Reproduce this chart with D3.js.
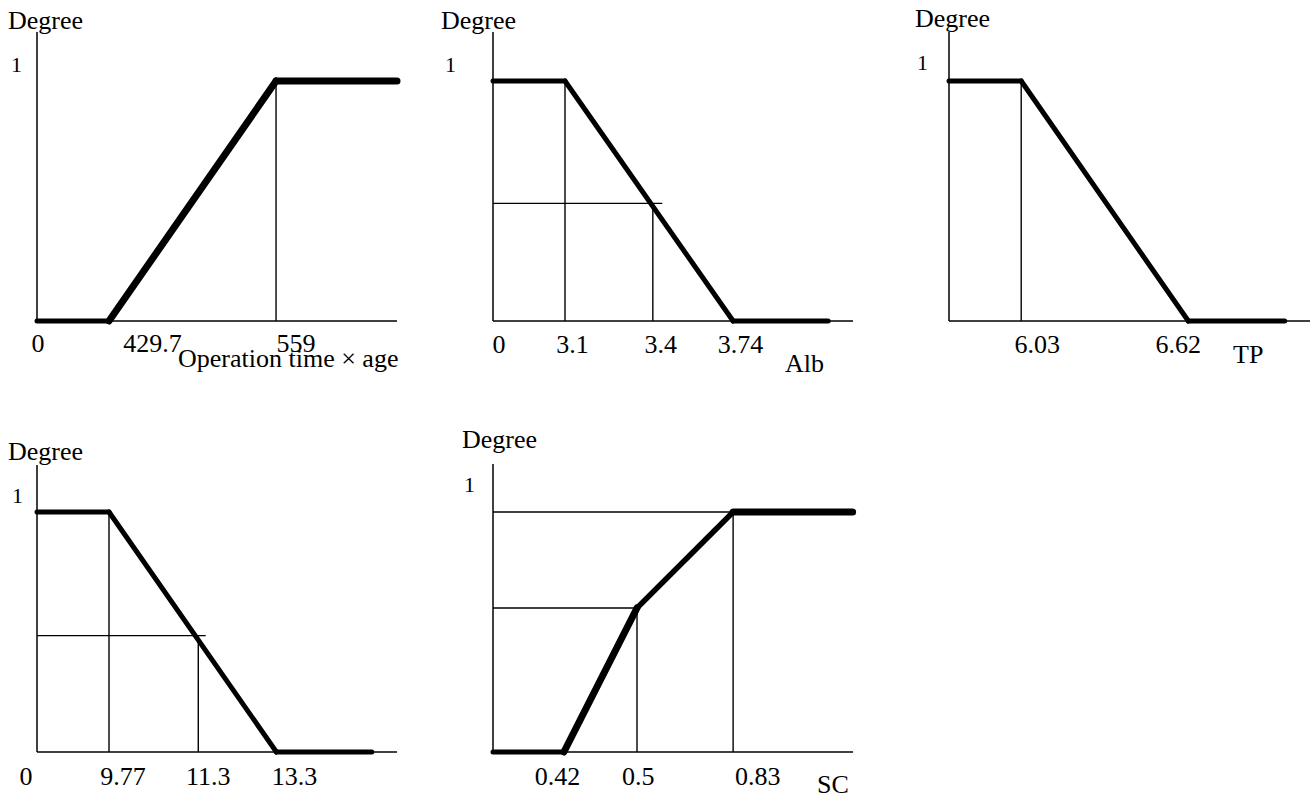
<!DOCTYPE html>
<html><head><meta charset="utf-8">
<script src="https://cdn.jsdelivr.net/npm/d3@7"></script>
<style>
html,body{margin:0;padding:0;background:#fff;}
text{font-family:"Liberation Serif","Times New Roman",serif;fill:#000;}
</style></head><body>
<svg id="chart" width="1311" height="798"></svg>
<script>
// ---------------- data ----------------
const degreeLabel = "Degree";
const oneLabel = "1";

// Panel 1: Operation time × age
const optTitle = "Operation time × age";
const optTickValues = [0, 429.7, 559];
const optTickLabels = ["0", "429.7", "559"];
const optX = [0, 429.7, 559, 650];
const optY = [0, 0, 1, 1];
const optGuides = [[559, 0, 559, 1]];

// Panel 2: Alb
const albTitle = "Alb";
const albTickValues = [0, 3.1, 3.4, 3.74];
const albTickLabels = ["0", "3.1", "3.4", "3.74"];
const albX = [0, 3.1, 3.74, 4.1];
const albY = [1, 1, 0, 0];
const albGuides = [[3.1, 0, 3.1, 1], [0, 0.49, 3.44, 0.49], [3.4, 0, 3.4, 0.49]];

// Panel 3: TP
const tpTitle = "TP";
const tpTickValues = [6.03, 6.62];
const tpTickLabels = ["6.03", "6.62"];
const tpX = [0, 6.03, 6.62, 6.95];
const tpY = [1, 1, 0, 0];
const tpGuides = [[6.03, 0, 6.03, 1]];

// Panel 4
const p4Title = "";
const p4TickValues = [0, 9.77, 11.3, 13.3];
const p4TickLabels = ["0", "9.77", "11.3", "13.3"];
const p4X = [0, 9.77, 13.3, 14.9];
const p4Y = [1, 1, 0, 0];
const p4Guides = [[9.77, 0, 9.77, 1], [0, 0.485, 11.49, 0.485], [11.3, 0, 11.3, 0.485]];

// Panel 5: SC
const scTitle = "SC";
const scTickValues = [0.42, 0.5, 0.83];
const scTickLabels = ["0.42", "0.5", "0.83"];
const scX = [0, 0.42, 0.5, 0.83, 1.0];
const scY = [0, 0, 0.6, 1, 1];
const scGuides = [[0, 1, 0.83, 1], [0, 0.6, 0.5, 0.6], [0.5, 0, 0.5, 0.6], [0.83, 0, 0.83, 1]];

// ---------------- layout (schematic, not-to-scale axes) ----------------
const panels = [
  {title: optTitle, tv: optTickValues, tl: optTickLabels, xs: optX, ys: optY, guides: optGuides,
   x0: 37, yBase: 321, yTop: 32, axisW: 360, dom: [0, 429.7, 559, 650], frac: [0, 0.2, 0.664, 1.0],
   widths: [5, 7, 7], degX: 8, degY: 29, oneX: 11, oneY: 72, titleX: 178, titleY: 367, tickY: 352, tickDx: [1, 43.5, 20]},
  {title: albTitle, tv: albTickValues, tl: albTickLabels, xs: albX, ys: albY, guides: albGuides,
   x0: 493, yBase: 321, yTop: 32, axisW: 360, dom: [0, 3.1, 3.4, 3.74, 4.1], frac: [0, 0.2, 0.444, 0.667, 0.931],
   widths: [5, 5, 5], degX: 441, degY: 29, oneX: 445, oneY: 72, titleX: 785, titleY: 372, tickY: 353, tickDx: [6, 7.5, 8, 7.5]},
  {title: tpTitle, tv: tpTickValues, tl: tpTickLabels, xs: tpX, ys: tpY, guides: tpGuides,
   x0: 949, yBase: 321, yTop: 32, axisW: 361, dom: [0, 6.03, 6.62, 6.95], frac: [0, 0.2, 0.663, 0.93],
   widths: [5, 5, 5], degX: 915, degY: 27, oneX: 917, oneY: 70, titleX: 1233, titleY: 363, tickY: 353, tickDx: [16, -10]},
  {title: p4Title, tv: p4TickValues, tl: p4TickLabels, xs: p4X, ys: p4Y, guides: p4Guides,
   x0: 37, yBase: 752, yTop: 465, axisW: 360, dom: [0, 9.77, 11.3, 13.3, 14.9], frac: [0, 0.2, 0.448, 0.665, 0.93],
   widths: [5, 5, 5], degX: 8, degY: 460, oneX: 12, oneY: 503, titleX: 0, titleY: 0, tickY: 785, tickDx: [-11, 14, 10, 18]},
  {title: scTitle, tv: scTickValues, tl: scTickLabels, xs: scX, ys: scY, guides: scGuides,
   x0: 493, yBase: 752, yTop: 464, axisW: 360, dom: [0, 0.42, 0.5, 0.83, 1.0], frac: [0, 0.197, 0.4, 0.667, 0.999],
   widths: [5, 7, 5.5, 7], degX: 462, degY: 448, oneX: 464, oneY: 492, titleX: 817, titleY: 793, tickY: 785, tickDx: [-6.5, 1.3, 24.7]}
];

const svg = d3.select("#chart");
const degreeH = 240;

panels.forEach(p => {
  const x = d3.scaleLinear().domain(p.dom).range(p.frac.map(f => p.x0 + f * p.axisW));
  const y = d3.scaleLinear().domain([0, 1]).range([p.yBase, p.yBase - degreeH]);
  const g = svg.append("g");

  // axes
  g.append("line").attr("x1", p.x0).attr("x2", p.x0).attr("y1", p.yTop).attr("y2", p.yBase)
    .attr("stroke", "#000").attr("stroke-width", 1.5);
  g.append("line").attr("x1", p.x0).attr("x2", p.x0 + p.axisW).attr("y1", p.yBase).attr("y2", p.yBase)
    .attr("stroke", "#000").attr("stroke-width", 1.5);

  // thin guide lines
  g.selectAll("line.guide").data(p.guides).join("line").attr("class", "guide")
    .attr("x1", d => x(d[0])).attr("y1", d => y(d[1]))
    .attr("x2", d => x(d[2])).attr("y2", d => y(d[3]))
    .attr("stroke", "#000").attr("stroke-width", 1.4);

  // membership function (thick)
  const segs = d3.range(p.xs.length - 1).map(i => ({a: [p.xs[i], p.ys[i]], b: [p.xs[i + 1], p.ys[i + 1]], w: p.widths[i]}));
  g.selectAll("line.mf").data(segs).join("line").attr("class", "mf")
    .attr("x1", d => x(d.a[0])).attr("y1", d => y(d.a[1]))
    .attr("x2", d => x(d.b[0])).attr("y2", d => y(d.b[1]))
    .attr("stroke", "#000").attr("stroke-width", d => d.w).attr("stroke-linecap", "round");

  // tick labels
  g.selectAll("text.tick").data(p.tv).join("text").attr("class", "tick")
    .attr("x", (d, i) => x(d) + p.tickDx[i]).attr("y", p.tickY)
    .attr("text-anchor", "middle").attr("font-size", 26)
    .text((d, i) => p.tl[i]);

  // Degree label, "1"
  g.append("text").attr("x", p.degX).attr("y", p.degY).attr("font-size", 26).text(degreeLabel);
  g.append("text").attr("x", p.oneX).attr("y", p.oneY).attr("font-size", 22).text(oneLabel);

  // axis title
  if (p.title) {
    g.append("text").attr("x", p.titleX).attr("y", p.titleY).attr("font-size", 26).text(p.title);
  }
});
</script>
</body></html>
